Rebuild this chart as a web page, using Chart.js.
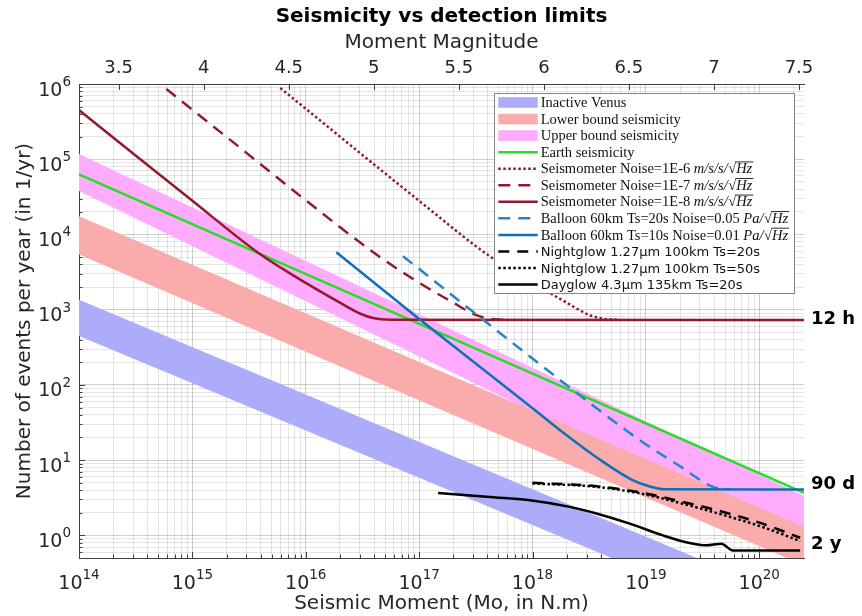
<!DOCTYPE html>
<html>
<head>
<meta charset="utf-8">
<title>Seismicity vs detection limits</title>
<script src="https://cdn.jsdelivr.net/npm/chart.js@4.4.1/dist/chart.umd.min.js"></script>
<style>
  html, body { margin: 0; padding: 0; background: #fff; }
  #wrap { width: 862px; height: 616px; }
</style>
</head>
<body>
<div id="wrap"><canvas id="myChart" width="862" height="616"></canvas></div>
<script>

// axis ranges: seismic moment (N.m) and events per year
const momentRange = [1e14, 2.48e20]
const rateRange = [0.5, 1e6]
const mwTicks = [3.5, 4, 4.5, 5, 5.5, 6, 6.5, 7, 7.5]

// shaded bands, value at left and right end of the moment range
const bandM0 = [1e14, 2.48e20]
const venusUpper = [1360, 0.127]
const venusLower = [447, 0.043]
const lowerBoundTop = [1.75e4, 1.30]
const lowerBoundBottom = [5400, 0.40]
const upperBoundTop = [1.17e5, 3.37]
const upperBoundBottom = [3.78e4, 0.78]

const earthM0 = [1e14, 2.48e20]
const earthN = [6.3e4, 3.66]

const seis6M0 = [5.96e15, 1e17, 4e17, 1e18, 2e18, 3e18, 4e18, 5.6e18]
const seis6N = [8.85e5, 2.8e4, 5400, 2270, 1240, 880, 767, 735]
const seis7M0 = [5.9e14, 2e15, 1e16, 4.2e16, 1e17, 2e17, 3e17, 4e17, 5.6e17]
const seis7N = [8.57e5, 1.98e5, 2.85e4, 5400, 2280, 1240, 880, 767, 735]
const seis8M0 = [1e14, 2e14, 1e15, 4e15, 1e16, 2e16, 3e16, 4e16, 5.6e16, 2.48e20]
const seis8N = [4.5e5, 1.95e5, 2.8e4, 5400, 2270, 1240, 890, 767, 735, 730]

const balloon20M0 = [7.2e16, 1.08e18, 8.8e18, 2e19, 3.9e19, 5.6e19]
const balloon20N = [5140, 205, 18.5, 8.3, 4.4, 4.06]
const balloon10M0 = [1.86e16, 1e17, 4.8e17, 1e18, 2e18, 3.8e18, 7.4e18, 1.05e19, 1.45e19, 2.48e20]
const balloon10N = [5810, 752, 117, 49, 21.4, 10.5, 5.56, 4.52, 4.09, 4.06]

const nightM0 = [1e18, 3.66e18, 9.4e18, 2.12e19, 4.47e19, 1.07e20, 2.29e20]
const night20N = [4.99, 4.5, 3.66, 2.78, 2.11, 1.43, 0.93]
const night50N = [4.89, 4.42, 3.55, 2.63, 1.93, 1.29, 0.84]

const dayM0 = [1.47e17, 4.8e17, 9.5e17, 2.13e18, 3.66e18, 7.2e18, 1.41e19, 2.43e19, 3.41e19, 4.62e19, 5.85e19, 2.29e20]
const dayN = [3.66, 3.18, 2.93, 2.39, 1.95, 1.43, 1.0, 0.79, 0.736, 0.774, 0.63, 0.63]

const durations = ['12 h', '90 d', '2 y']
const durationRates = [730, 4.06, 0.5]


const col = {
  venus: 'rgb(172,172,250)', low: 'rgb(250,172,172)', up: 'rgb(255,172,255)',
  earth: '#22e022', red: '#931a2e', blue: '#0f70b8', blueDash: '#2784c6', black: '#000'
}
const dotted = [2.5, 2.5]
const dashed = [12, 8]

function mw(m0) {
  return (2 / 3) * (Math.log10(m0) - 9.1)
}

function pts(xs, ys) {
  return xs.map((x, i) => ({ x: x, y: ys[i] }))
}

function edge(xs, ys) {
  return { data: pts(xs, ys), borderColor: 'transparent', borderWidth: 1, pointRadius: 0, fill: false }
}

function band(xs, ys, color) {
  return { data: pts(xs, ys), borderColor: 'transparent', borderWidth: 1, pointRadius: 0, fill: '-1', backgroundColor: color }
}

function curve(xs, ys, color, dash, smooth) {
  return {
    data: pts(xs, ys), borderColor: color, borderWidth: 2.5, borderDash: dash || [],
    pointRadius: 0, fill: false, borderJoinStyle: 'round',
    cubicInterpolationMode: smooth ? 'monotone' : 'default', tension: 0
  }
}

function logTicks(lo, hi) {
  const t = []
  for (let e = Math.floor(Math.log10(lo)); e <= Math.ceil(Math.log10(hi)); e++) {
    for (let k = 1; k < 10; k++) {
      const v = k * Math.pow(10, e)
      if (v >= lo * 0.999 && v <= hi * 1.001) t.push({ value: v, major: k === 1 })
    }
  }
  return t
}

const datasets = [
  edge(bandM0, upperBoundBottom),
  band(bandM0, upperBoundTop, col.up),
  edge(bandM0, lowerBoundBottom),
  band(bandM0, lowerBoundTop, col.low),
  edge(bandM0, venusLower),
  band(bandM0, venusUpper, col.venus),
  curve(earthM0, earthN, col.earth),
  curve(seis6M0, seis6N, col.red, dotted, true),
  curve(seis7M0, seis7N, col.red, dashed, true),
  curve(seis8M0, seis8N, col.red, null, true),
  curve(balloon20M0, balloon20N, col.blueDash, dashed, true),
  curve(balloon10M0, balloon10N, col.blue, null, true),
  curve(nightM0, night20N, col.black, [11, 8], true),
  curve(nightM0, night50N, col.black, dotted, true),
  curve(dayM0, dayN, col.black, null, true)
]
// later datasets on top, like the original plot
datasets.forEach((d, i) => { d.order = -i })

const legendItems = [
  { text: 'Inactive Venus', fill: col.venus },
  { text: 'Lower bound seismicity', fill: col.low },
  { text: 'Upper bound seismicity', fill: col.up },
  { text: 'Earth seismicity', color: col.earth },
  { text: 'Seismometer Noise=1E-6', unit: 'm/s/s/', color: col.red, dash: dotted },
  { text: 'Seismometer Noise=1E-7', unit: 'm/s/s/', color: col.red, dash: dashed },
  { text: 'Seismometer Noise=1E-8', unit: 'm/s/s/', color: col.red },
  { text: 'Balloon 60km Ts=20s Noise=0.05', unit: 'Pa/', color: col.blueDash, dash: dashed },
  { text: 'Balloon 60km Ts=10s Noise=0.01', unit: 'Pa/', color: col.blue },
  { text: 'Nightglow 1.27\u00b5m 100km Ts=20s', sans: true, color: col.black, dash: [11, 8] },
  { text: 'Nightglow 1.27\u00b5m 100km Ts=50s', sans: true, color: col.black, dash: dotted },
  { text: 'Dayglow 4.3\u00b5m 135km Ts=20s', sans: true, color: col.black }
]

function drawLegendText(ctx, x, cy, it) {
  ctx.fillStyle = '#111'
  ctx.textAlign = 'left'
  ctx.textBaseline = 'alphabetic'
  const base = cy + 4.6
  ctx.font = it.sans ? '13px "DejaVu Sans"' : '14.5px "Liberation Serif"'
  ctx.fillText(it.text, x, base)
  if (!it.unit) return
  let cx = x + ctx.measureText(it.text + ' ').width
  ctx.font = 'italic 14.5px "Liberation Serif"'
  ctx.fillText(it.unit, cx, base)
  cx += ctx.measureText(it.unit).width + 0.5
  ctx.font = '14.5px "Liberation Serif"'
  ctx.fillText('\u221a', cx, base)
  cx += ctx.measureText('\u221a').width
  ctx.font = 'italic 14.5px "Liberation Serif"'
  const w = ctx.measureText('Hz').width
  ctx.fillText('Hz', cx, base)
  ctx.fillRect(cx - 0.5, base - 11.8, w + 1.5, 0.9)
}

const boxLegend = {
  id: 'boxLegend',
  afterDatasetsDraw(chart) {
    const ctx = chart.ctx
    const a = chart.chartArea
    const w = 300, h = 200
    const x0 = Math.round(a.right - 10 - w), y0 = Math.round(a.top + 9)
    ctx.save()
    ctx.fillStyle = '#fff'
    ctx.fillRect(x0, y0, w, h)
    ctx.strokeStyle = '#858585'
    ctx.lineWidth = 1
    ctx.strokeRect(x0 + 0.5, y0 + 0.5, w, h)
    legendItems.forEach((it, i) => {
      const cy = y0 + 9.5 + i * 16.55
      const sx = x0 + 4.3, ex = x0 + 43.7
      if (it.fill) {
        ctx.fillStyle = it.fill
        ctx.fillRect(sx, cy - 5.3, ex - sx, 10.6)
      } else {
        ctx.strokeStyle = it.color
        ctx.lineWidth = 2.5
        ctx.setLineDash(it.dash || [])
        ctx.beginPath()
        ctx.moveTo(sx, cy)
        ctx.lineTo(ex, cy)
        ctx.stroke()
        ctx.setLineDash([])
      }
      drawLegendText(ctx, x0 + 46.7, cy, it)
    })
    ctx.restore()
  }
}

// inward tick marks, matlab style
const innerTicks = {
  id: 'innerTicks',
  beforeDatasetsDraw(chart) {
    const ctx = chart.ctx
    const a = chart.chartArea
    const sx = chart.scales.x, sy = chart.scales.y, s2 = chart.scales.x2
    ctx.save()
    ctx.strokeStyle = '#404040'
    ctx.lineWidth = 1
    ctx.beginPath()
    sx.ticks.forEach(t => {
      const p = Math.round(sx.getPixelForValue(t.value)) + 0.5
      ctx.moveTo(p, a.bottom)
      ctx.lineTo(p, a.bottom - (t.major ? 6 : 3.5))
    })
    sy.ticks.forEach(t => {
      const p = Math.round(sy.getPixelForValue(t.value)) + 0.5
      ctx.moveTo(a.left, p)
      ctx.lineTo(a.left + (t.major ? 6 : 3.5), p)
    })
    s2.ticks.forEach(t => {
      const p = Math.round(s2.getPixelForValue(t.value)) + 0.5
      ctx.moveTo(p, a.top)
      ctx.lineTo(p, a.top + 6)
    })
    ctx.stroke()
    ctx.restore()
  }
}

// 10^n tick labels and the duration notes on the right
const powerLabels = {
  id: 'powerLabels',
  afterDraw(chart) {
    const ctx = chart.ctx
    const a = chart.chartArea
    const sx = chart.scales.x, sy = chart.scales.y
    const baseFont = '19px "DejaVu Sans"', expFont = '13.5px "DejaVu Sans"'
    ctx.save()
    ctx.fillStyle = '#262626'
    ctx.textBaseline = 'alphabetic'
    ctx.textAlign = 'left'
    sx.ticks.filter(t => t.major).forEach(t => {
      const ex = String(Math.round(Math.log10(t.value)))
      ctx.font = baseFont
      const wb = ctx.measureText('10').width
      ctx.font = expFont
      const we = ctx.measureText(ex).width
      const x0 = sx.getPixelForValue(t.value) - (wb + we) / 2
      ctx.font = baseFont
      ctx.fillText('10', x0, a.bottom + 31)
      ctx.font = expFont
      ctx.fillText(ex, x0 + wb, a.bottom + 20.5)
    })
    ctx.textAlign = 'right'
    sy.ticks.filter(t => t.major).forEach(t => {
      const ex = String(Math.round(Math.log10(t.value)))
      const p = sy.getPixelForValue(t.value)
      ctx.font = expFont
      const we = ctx.measureText(ex).width
      ctx.fillText(ex, a.left - 8, p + 2)
      ctx.font = baseFont
      ctx.fillText('10', a.left - 8 - we, p + 11.5)
    })
    ctx.fillStyle = '#000'
    ctx.textAlign = 'left'
    ctx.font = 'bold 18px "DejaVu Sans"'
    const offs = [4, -1, -9.5]
    durations.forEach((d, i) => {
      ctx.fillText(d, a.right + 7, sy.getPixelForValue(durationRates[i]) + offs[i])
    })
    ctx.restore()
  }
}

const gridMajor = 'rgba(0,0,0,0.19)'
const gridMinor = 'rgba(0,0,0,0.10)'

const config = {
  type: 'line',
  data: { datasets: datasets },
  options: {
    responsive: false,
    animation: false,
    events: [],
    layout: { padding: { left: 0, right: 58, top: 0, bottom: 0 } },
    plugins: {
      legend: { display: false },
      tooltip: { enabled: false },
      title: {
        display: true, text: 'Seismicity vs detection limits', color: '#000', fullSize: false,
        font: { family: 'DejaVu Sans', size: 20, weight: 'bold' }, padding: { top: 5, bottom: 0 }
      }
    },
    scales: {
      x: {
        type: 'logarithmic', position: 'bottom', min: momentRange[0], max: momentRange[1],
        afterBuildTicks: s => { s.ticks = logTicks(s.min, s.max) },
        afterFit: s => { s.height = 58 },
        ticks: { display: false },
        grid: { drawTicks: false, color: c => (c.tick && c.tick.major ? gridMajor : gridMinor) },
        border: { color: '#404040', width: 1 },
        title: {
          display: true, text: 'Seismic Moment (Mo, in N.m)', color: '#262626',
          font: { family: 'DejaVu Sans', size: 20 }, padding: { top: 0, bottom: 0 }
        }
      },
      x2: {
        type: 'linear', position: 'top', axis: 'x', min: mw(momentRange[0]), max: mw(momentRange[1]),
        afterBuildTicks: s => { s.ticks = mwTicks.map(v => ({ value: v })) },
        afterFit: s => { s.height = 55 },
        grid: { drawOnChartArea: false, drawTicks: false },
        border: { display: true, color: '#404040', width: 1 },
        ticks: {
          color: '#262626', font: { family: 'DejaVu Sans', size: 18 }, padding: 5,
          autoSkip: false, maxRotation: 0, callback: v => String(v)
        },
        title: {
          display: true, text: 'Moment Magnitude', color: '#262626',
          font: { family: 'DejaVu Sans', size: 20 }, padding: { top: 1.5, bottom: 0 }
        }
      },
      y: {
        type: 'logarithmic', position: 'left', min: rateRange[0], max: rateRange[1],
        afterBuildTicks: s => { s.ticks = logTicks(s.min, s.max) },
        afterFit: s => { s.width = 79 },
        ticks: { display: false },
        grid: { drawTicks: false, color: c => (c.tick && c.tick.major ? gridMajor : gridMinor) },
        border: { color: '#404040', width: 1 },
        title: {
          display: true, text: 'Number of events per year (in 1/yr)', color: '#262626',
          font: { family: 'DejaVu Sans', size: 20 }, padding: { top: 12.5, bottom: 0 }
        }
      }
    }
  },
  plugins: [innerTicks, boxLegend, powerLabels]
}

const myChart = new Chart(document.getElementById('myChart'), config)

</script>
</body>
</html>
